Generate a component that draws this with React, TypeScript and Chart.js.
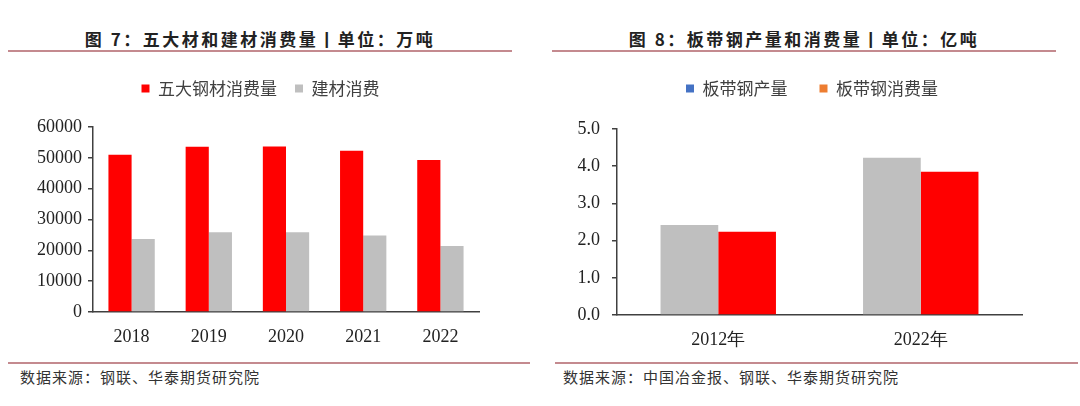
import React, { useEffect, useRef } from 'react';
import { Chart, registerables } from 'chart.js';

Chart.register(...registerables);

// figure 7
const years = ['2018', '2019', '2020', '2021', '2022'];
const steelFive = [51000, 53600, 53700, 52300, 49300];
const buildSteel = [23700, 25900, 25900, 24800, 21400];

// figure 8
const periods = ['2012年', '2022年'];
const stripOutput = [2.42, 4.23];
const stripConsume = [2.24, 3.85];
const legendColors8 = ['#4472C4', '#ED7D31'];

const SERIF = '"Liberation Serif", "DejaVu Serif", serif';
const SANS = '"Noto Sans CJK SC", "Noto Sans", sans-serif';
const LINE = '#c48a8f';

// pushes the plot down below the legend and nudges the legend sideways
const legendTweak = (extra: number, shift: number) => ({
  id: 'legendTweak',
  beforeInit(chart: any) {
    const fit = chart.legend.fit;
    chart.legend.fit = function () {
      fit.bind(chart.legend)();
      this.height += extra;
    };
  },
  afterLayout(chart: any) {
    chart.legend.left += shift;
    chart.legend.right += shift;
  },
});

interface BarProps {
  labels: string[];
  series: { label: string; data: number[]; color: string }[];
  max: number;
  step: number;
  decimals: number;
  axisWidth: number;
  padRight: number;
  xHeight: number;
  xPad: number;
  yPad: number;
  gap: number;
  shift: number;
  catPct: number;
  legendPad: number;
  height: number;
  legendColors?: string[];
}

const BarPanel: React.FC<BarProps> = (p) => {
  const canvasRef = useRef<HTMLCanvasElement | null>(null);

  useEffect(() => {
    const ctx = canvasRef.current?.getContext('2d');
    if (!ctx) return;

    const chart = new Chart(ctx, {
      type: 'bar',
      data: {
        labels: p.labels,
        datasets: p.series.map((s) => ({
          label: s.label,
          data: s.data,
          backgroundColor: s.color,
          borderWidth: 0,
          categoryPercentage: p.catPct,
          barPercentage: 1,
        })),
      },
      options: {
        responsive: false,
        animation: false,
        layout: { padding: { top: 0, right: p.padRight, left: 0, bottom: 0 } },
        plugins: {
          tooltip: { enabled: false },
          legend: {
            position: 'top',
            labels: {
              boxWidth: 8,
              boxHeight: 8,
              padding: p.legendPad,
              color: '#404040',
              font: { family: SANS, size: 17 },
              generateLabels: (c: any) => {
                const items = Chart.defaults.plugins.legend.labels.generateLabels(c);
                if (p.legendColors) {
                  items.forEach((it: any, i: number) => {
                    it.fillStyle = p.legendColors![i];
                    it.strokeStyle = p.legendColors![i];
                  });
                }
                items.forEach((it: any) => (it.lineWidth = 0));
                return items;
              },
            },
          },
        },
        scales: {
          x: {
            grid: { display: false, drawTicks: false },
            border: { display: true, color: '#404040', width: 1.5 },
            ticks: { color: '#222', padding: p.xPad, font: { family: SERIF, size: 18 } },
            afterFit: (s: any) => {
              s.height = p.xHeight;
            },
          },
          y: {
            min: 0,
            max: p.max,
            grid: { display: true, drawOnChartArea: false, drawTicks: true, tickLength: 5, color: '#404040', lineWidth: 1.5 },
            border: { display: true, color: '#404040', width: 1.5 },
            ticks: {
              stepSize: p.step,
              color: '#222',
              padding: p.yPad,
              font: { family: SERIF, size: 18 },
              callback: (v: any) => Number(v).toFixed(p.decimals),
            },
            afterFit: (s: any) => {
              s.width = p.axisWidth;
            },
          },
        },
      },
      plugins: [legendTweak(p.gap, p.shift)],
    });

    return () => {
      chart.destroy();
    };
  }, [p]);

  return <canvas ref={canvasRef} width={540} height={p.height} />;
};

const titleStyle: React.CSSProperties = {
  position: 'absolute',
  top: 28,
  textAlign: 'center',
  fontFamily: SANS,
  fontWeight: 700,
  fontSize: 17,
  letterSpacing: 2.5,
  lineHeight: '22px',
  color: '#222',
  whiteSpace: 'nowrap',
};

const sourceStyle: React.CSSProperties = {
  position: 'absolute',
  top: 367,
  fontFamily: SANS,
  fontSize: 15,
  letterSpacing: 1,
  lineHeight: '20px',
  color: '#333',
  whiteSpace: 'nowrap',
};

const rule = (left: number, width: number, top: number): React.CSSProperties => ({
  position: 'absolute',
  left,
  width,
  top,
  height: 2,
  background: LINE,
});

const fig7 = {
  labels: years,
  series: [
    { label: '五大钢材消费量', data: steelFive, color: '#FF0000' },
    { label: '建材消费', data: buildSteel, color: '#BFBFBF' },
  ],
  max: 60000,
  step: 10000,
  decimals: 0,
  axisWidth: 93,
  padRight: 61,
  xHeight: 48,
  xPad: 14,
  yPad: 6,
  gap: 20,
  shift: 21,
  catPct: 0.6,
  legendPad: 18,
  height: 298,
};

const fig8 = {
  labels: periods,
  series: [
    { label: '板带钢产量', data: stripOutput, color: '#BFBFBF' },
    { label: '板带钢消费量', data: stripConsume, color: '#FF0000' },
  ],
  max: 5,
  step: 1,
  decimals: 1,
  axisWidth: 77,
  padRight: 58,
  xHeight: 45,
  xPad: 14,
  yPad: 12,
  gap: 22,
  shift: 31,
  catPct: 0.57,
  legendPad: 32,
  height: 312,
  legendColors: legendColors8,
};

export default function App() {
  return (
    <div style={{ position: 'absolute', left: 0, top: 0, width: 1080, height: 406, background: '#fff', overflow: 'hidden' }}>
      <div style={{ ...titleStyle, left: 8, width: 504 }}>图 7：五大材和建材消费量丨单位：万吨</div>
      <div style={{ ...titleStyle, left: 552, width: 504 }}>图 8：板带钢产量和消费量丨单位：亿吨</div>
      <div style={rule(8, 504, 50)} />
      <div style={rule(552, 504, 50)} />
      <div style={{ position: 'absolute', left: 0, top: 62 }}>
        <BarPanel {...fig7} />
      </div>
      <div style={{ position: 'absolute', left: 540, top: 48 }}>
        <BarPanel {...fig8} />
      </div>
      <div style={rule(8, 522, 362)} />
      <div style={rule(555, 523, 362)} />
      <div style={{ ...sourceStyle, left: 20 }}>数据来源：钢联、华泰期货研究院</div>
      <div style={{ ...sourceStyle, left: 563 }}>数据来源：中国冶金报、钢联、华泰期货研究院</div>
    </div>
  );
}
